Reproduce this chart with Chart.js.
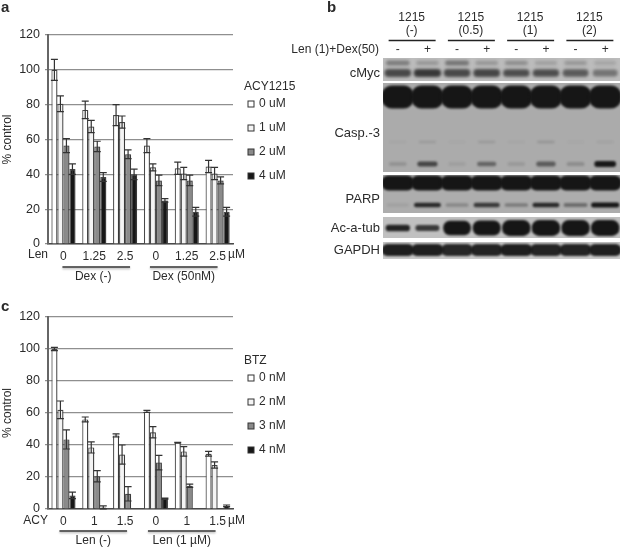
<!DOCTYPE html>
<html>
<head>
<meta charset="utf-8">
<title>ACY1215 figure</title>
<script src="https://cdn.jsdelivr.net/npm/chart.js@4"></script>
<style>
  html, body { margin: 0; padding: 0; background: #fff; }
  canvas { position: absolute; filter: blur(0.35px); }
  #chartA { left: 0; top: 0; }
  #chartC { left: 0; top: 295px; }
  #chartB { left: 280px; top: 0; }
</style>
</head>
<body>
<canvas id="chartA" width="320" height="290"></canvas>
<canvas id="chartC" width="320" height="253"></canvas>
<canvas id="chartB" width="341" height="270"></canvas>
<script>
// panel a
const lenDoses = ["0", "1.25", "2.5", "0", "1.25", "2.5"];
const acyLabels = ["0 uM", "1 uM", "2 uM", "4 uM"];
const acy0 = [100, 77, 74, 56.5, 43.5, 44.5];
const acy1 = [80.5, 67.5, 70, 44, 40.5, 40.5];
const acy2 = [56.5, 56, 51.5, 36.5, 36.5, 36.5];
const acy4 = [43, 38.5, 40, 25, 18.5, 18.5];
const acy0Err = [6, 5, 6, 4, 3.5, 3.5];
const acy1Err = [4.5, 3.5, 3.5, 2, 3.5, 3.5];
const acy2Err = [4, 3, 2.5, 3, 3, 2];
const acy4Err = [3, 2.5, 3, 1, 2.5, 2.5];

// panel c
const acyDoses = ["0", "1", "1.5", "0", "1", "1.5"];
const btzLabels = ["0 nM", "2 nM", "3 nM", "4 nM"];
const btz0 = [100, 56, 46, 61, 41.5, 34.5];
const btz2 = [62, 38.5, 34, 48, 36, 27.5];
const btz3 = [43.5, 20.5, 9.5, 29, 14.5, 0];
const btz4 = [8.5, 1, 0, 6.5, 0, 2];
const btz0Err = [1, 1.5, 1, 0.7, 0.2, 1.5];
const btz2Err = [5.5, 3.5, 6, 3.5, 3, 2];
const btz3Err = [6, 3.5, 4.5, 4.5, 1, 0];
const btz4Err = [2, 1, 0, 0.3, 0, 0.5];

const yTicks = [0, 20, 40, 60, 80, 100, 120];

// panel b, relative band strength per lane
const laneSigns = ["-", "+", "-", "+", "-", "+", "-", "+"];
const cMycUpper = [0.35, 0.2, 0.4, 0.2, 0.25, 0.15, 0.2, 0.12];
const cMycLower = [0.66, 0.76, 0.66, 0.68, 0.64, 0.64, 0.56, 0.42];
const caspMain = [1, 1, 1, 1, 1, 1, 1, 1];
const caspFaint = [0.04, 0.1, 0.03, 0.11, 0.04, 0.14, 0.03, 0.06];
const caspCleaved = [0.14, 0.62, 0.07, 0.42, 0.1, 0.48, 0.18, 0.9];
const parpMain = [1, 1, 1, 1, 1, 1, 1, 1];
const parpCleaved = [0.08, 0.8, 0.22, 0.7, 0.3, 0.8, 0.38, 1];
const acTub = [0.42, 0.36, 0.9, 0.95, 1, 1, 1, 1];
const gapdh = [0.95, 0.95, 0.9, 0.92, 0.95, 0.92, 0.92, 0.95];

const TEXT = "#2b2b2b";
const FONT = "Liberation Sans";

function text(ctx, str, x, y, size, align, bold) {
  ctx.font = (bold ? "bold " : "") + size + "px '" + FONT + "'";
  ctx.textAlign = align || "left";
  ctx.textBaseline = "middle";
  ctx.fillStyle = TEXT;
  ctx.fillText(str, x, y);
}

// error bars and extra labels for the two bar panels
const barExtras = {
  id: "barExtras",
  beforeDatasetDraw(chart) {
    // the soft grey shadow next to the bars
    chart.ctx.save();
    chart.ctx.shadowColor = "rgba(0,0,0,0.28)";
    chart.ctx.shadowOffsetX = 1.5;
    chart.ctx.shadowBlur = 2;
  },
  afterDatasetDraw(chart) {
    chart.ctx.restore();
  },
  afterDatasetsDraw(chart, args, opts) {
    const ctx = chart.ctx, y = chart.scales.y, x = chart.scales.x;
    ctx.save();
    chart.data.datasets.forEach((ds, i) => {
      chart.getDatasetMeta(i).data.forEach((bar, k) => {
        const v = ds.data[k], e = ds.errors[k];
        if (!v || !e) return;
        const top = y.getPixelForValue(v + e), bot = y.getPixelForValue(v - e);
        ctx.strokeStyle = "#333";
        ctx.lineWidth = 1.2;
        ctx.beginPath();
        ctx.moveTo(bar.x, top); ctx.lineTo(bar.x, bot);
        ctx.moveTo(bar.x - 3.5, top); ctx.lineTo(bar.x + 3.5, top);
        ctx.moveTo(bar.x - 3.5, bot); ctx.lineTo(bar.x + 3.5, bot);
        ctx.stroke();
      });
    });

    // legend
    text(ctx, opts.legendTitle, opts.legendX - 7, opts.legendY - 17, 12);
    chart.data.datasets.forEach((ds, i) => {
      const ly = opts.legendY + i * 24;
      ctx.fillStyle = ds.backgroundColor;
      ctx.strokeStyle = "#333";
      ctx.lineWidth = 1;
      ctx.fillRect(opts.legendX - 3, ly - 3, 6, 6);
      ctx.strokeRect(opts.legendX - 3, ly - 3, 6, 6);
      text(ctx, ds.label, opts.legendX + 8, ly, 12);
    });

    // dose axis captions and group brackets
    const tickY = y.bottom + opts.tickGap;
    text(ctx, opts.rowName, 48, tickY, 12, "right");
    text(ctx, "\u00b5M", 228, tickY, 12);
    opts.groups.forEach(g => {
      const x0 = x.getPixelForValue(g.from) + g.nudge;
      const x1 = x.getPixelForValue(g.to) + g.nudge + 6;
      ctx.shadowColor = "rgba(0,0,0,0.3)";
      ctx.shadowOffsetY = 1.5;
      ctx.shadowBlur = 2;
      ctx.strokeStyle = "#333";
      ctx.lineWidth = 1.5;
      ctx.beginPath();
      ctx.moveTo(x0, y.bottom + opts.lineGap);
      ctx.lineTo(x1, y.bottom + opts.lineGap);
      ctx.stroke();
      ctx.shadowColor = "transparent";
      text(ctx, g.label, (x0 + x1) / 2 + g.labelShift, y.bottom + opts.lineGap + 10, 12, "center");
    });
    text(ctx, opts.letter, 1, opts.letterY, 15, "left", true);
    ctx.restore();
  }
};

function barPanel(id, cats, labels, series, errors, extras) {
  const fills = ["#ffffff", "#f4f4f4", "#8a8a8a", "#171717"];
  return new Chart(document.getElementById(id), {
    type: "bar",
    data: {
      labels: cats,
      datasets: series.map((vals, i) => ({
        label: labels[i],
        data: vals,
        errors: errors[i],
        backgroundColor: fills[i],
        borderColor: "#4a4a4a",
        borderWidth: 1.2,
        categoryPercentage: 0.78,
        barPercentage: 1
      }))
    },
    options: {
      responsive: false,
      animation: false,
      layout: { padding: { top: extras.top, right: 87, left: 0, bottom: 0 } },
      plugins: { legend: { display: false }, tooltip: { enabled: false }, barExtras: extras },
      scales: {
        x: {
          grid: { display: false, drawTicks: false },
          border: { color: "#4a4a4a", width: 1.5 },
          ticks: { color: TEXT, font: { family: FONT, size: 12 }, padding: 5, maxRotation: 0, autoSkip: false },
          afterFit(s) { s.height = extras.bottom; }
        },
        y: {
          min: 0,
          max: 120,
          afterBuildTicks(s) { s.ticks = yTicks.map(v => ({ value: v })); },
          grid: { color: "#8f8f8f", lineWidth: 1.2, tickLength: 3 },
          border: { color: "#666", width: 2 },
          ticks: { color: TEXT, font: { family: FONT, size: 12.5 }, padding: 5 },
          title: { display: true, text: "% control", color: TEXT, font: { family: FONT, size: 12 }, padding: 0 },
          afterFit(s) { s.width = 48; }
        }
      }
    },
    plugins: [barExtras]
  });
}

barPanel("chartA", lenDoses, acyLabels, [acy0, acy1, acy2, acy4], [acy0Err, acy1Err, acy2Err, acy4Err], {
  top: 35, bottom: 46, tickGap: 11, lineGap: 23,
  legendTitle: "ACY1215", legendX: 251, legendY: 104, rowName: "Len", letter: "a", letterY: 8,
  groups: [{ from: 0, to: 2, label: "Dex (-)", nudge: -1, labelShift: -3 }, { from: 3, to: 5, label: "Dex (50nM)", nudge: -6, labelShift: 0 }]
});

barPanel("chartC", acyDoses, btzLabels, [btz0, btz2, btz3, btz4], [btz0Err, btz2Err, btz3Err, btz4Err], {
  top: 22, bottom: 39, tickGap: 12, lineGap: 22,
  legendTitle: "BTZ", legendX: 251, legendY: 83, rowName: "ACY", letter: "c", letterY: 12,
  groups: [{ from: 0, to: 2, label: "Len (-)", nudge: -4, labelShift: 0 }, { from: 3, to: 5, label: "Len (1 \u00b5M)", nudge: -8, labelShift: 0 }]
});

// blot rows, y in pixels below the top of the blot stack
const blots = [
  { from: 0, to: 23, shade: "#bcbcbc" },
  { from: 25, to: 114, shade: "#ababab" },
  { from: 117, to: 155, shade: "#adadad" },
  { from: 159, to: 180, shade: "#c0c0c0" },
  { from: 184, to: 201, shade: "#c8c8c8" }
];
const bandRows = [
  { values: cMycUpper, y: 5, h: 6, w: 0.95, gain: 1.1, base: 0.7, blur: 1.6 },
  { values: cMycLower, y: 15, h: 9, w: 0.98, gain: 1.05, base: 0.6, blur: 1.6 },
  { values: caspMain, y: 39, h: 23, w: 1.1, gain: 1, base: 1, blur: 1.2 },
  { values: caspFaint, y: 84, h: 3, w: 0.75, gain: 1, base: 0.8, blur: 1.3 },
  { values: caspCleaved, y: 106, h: 6, w: 0.75, gain: 1.1, base: 0.6, blur: 1.3 },
  { values: parpMain, y: 125, h: 15, w: 1.1, gain: 1, base: 1, blur: 1.2 },
  { values: parpCleaved, y: 147, h: 5, w: 0.95, gain: 1.1, base: 0.6, blur: 0.8 },
  { values: acTub, y: 170, h: 16, w: 0.96, gain: 2.2, base: 0, blur: 1.1 },
  { values: gapdh, y: 192, h: 12, w: 1.1, gain: 1, base: 0.8, blur: 1.2 }
];

const blotDraw = {
  id: "blotDraw",
  beforeDatasetsDraw(chart) {
    const ctx = chart.ctx, x = chart.scales.x, y = chart.scales.y;
    ctx.save();
    blots.forEach(b => {
      ctx.fillStyle = b.shade;
      ctx.fillRect(x.left, y.getPixelForValue(b.from), x.width, y.getPixelForValue(b.to) - y.getPixelForValue(b.from));
    });
    ctx.restore();
  },
  afterDatasetsDraw(chart) {
    const ctx = chart.ctx, x = chart.scales.x, y = chart.scales.y;
    const laneW = x.getPixelForValue(1) - x.getPixelForValue(0);
    chart.data.datasets.forEach((ds, i) => {
      const row = bandRows[i];
      const blot = blots.find(b => row.y >= b.from && row.y <= b.to);
      ctx.save();
      ctx.beginPath();
      ctx.rect(x.left, y.getPixelForValue(blot.from), x.width, y.getPixelForValue(blot.to) - y.getPixelForValue(blot.from));
      ctx.clip();
      ctx.filter = "blur(" + row.blur + "px)";
      chart.getDatasetMeta(i).data.forEach((pt, k) => {
        const v = row.values[k];
        const w = laneW * row.w * (0.75 + 0.25 * v);
        const h = row.h * (row.base + (1 - row.base) * v);
        ctx.fillStyle = "rgba(22,22,22," + Math.min(1, v * row.gain) + ")";
        ctx.beginPath();
        ctx.roundRect(pt.x - w / 2, pt.y - h / 2, w, h, h * 0.46);
        ctx.fill();
      });
      ctx.restore();
    });

    ctx.save();
    text(ctx, "b", 47, 8, 15, "left", true);
    text(ctx, "Len (1)+Dex(50)", 99, 50, 12, "right");
    [["(-)", 0], ["(0.5)", 2], ["(1)", 4], ["(2)", 6]].forEach(([dose, lane]) => {
      const mid = x.getPixelForValue(lane + 1);
      text(ctx, "1215", mid - 1, 18, 12, "center");
      text(ctx, dose, mid - 1, 31, 12, "center");
      ctx.strokeStyle = "#222";
      ctx.lineWidth = 1.5;
      ctx.beginPath();
      ctx.moveTo(mid - 24, 40.5);
      ctx.lineTo(mid + 23, 40.5);
      ctx.stroke();
    });
    laneSigns.forEach((s, k) => text(ctx, s, x.getPixelForValue(k + 0.5), 50, 12, "center"));
    text(ctx, "cMyc", 100, 73, 13, "right");
    text(ctx, "Casp.-3", 100, 133, 13, "right");
    text(ctx, "PARP", 100, 199, 13, "right");
    text(ctx, "Ac-a-tub", 100, 228, 13, "right");
    text(ctx, "GAPDH", 100, 250, 13, "right");
    ctx.restore();
  }
};

new Chart(document.getElementById("chartB"), {
  type: "scatter",
  data: {
    datasets: bandRows.map(row => ({
      data: row.values.map((v, k) => ({ x: k + 0.5, y: row.y })),
      pointRadius: 0
    }))
  },
  options: {
    responsive: false,
    animation: false,
    layout: { padding: { top: 58, left: 103, right: 1, bottom: 11 } },
    plugins: { legend: { display: false }, tooltip: { enabled: false } },
    scales: {
      x: { type: "linear", min: 0, max: 8, display: false },
      y: { type: "linear", min: 0, max: 201, reverse: true, display: false }
    }
  },
  plugins: [blotDraw]
});
</script>
</body>
</html>
